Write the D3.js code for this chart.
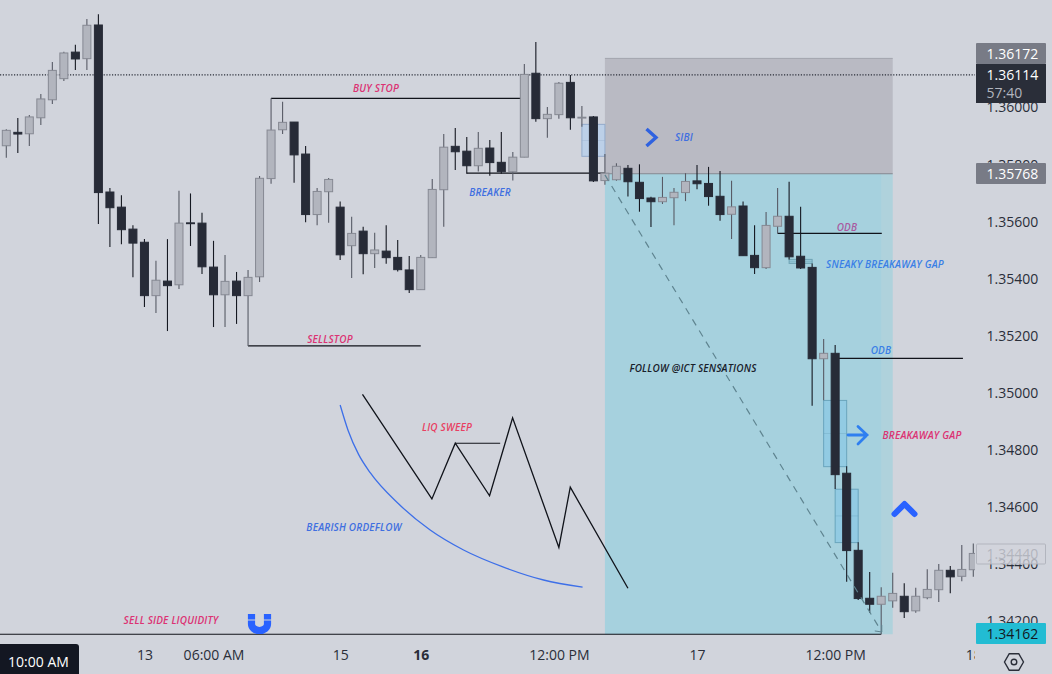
<!DOCTYPE html>
<html>
<head>
<meta charset="utf-8">
<title>GBPUSD chart</title>
<script src="https://cdn.jsdelivr.net/npm/d3@7"></script>
<style>
  html, body { margin: 0; padding: 0; background: #d1d4dc; overflow: hidden; }
  svg { display: block; }
  text { font-family: "Open Sans", "DejaVu Sans", sans-serif; }
  .note { font-size: 10px; font-style: italic; font-weight: 600; text-anchor: middle; letter-spacing: 0.2px; }
  .axis text { font-size: 14px; fill: #2a2e39; }
</style>
</head>
<body>
<svg id="chart" width="1052" height="674"></svg>
<script>
// hourly candles
const opens = [1.35866,1.35913,1.35908,1.35964,1.36027,1.36101,1.36194,1.36171,1.36289,1.35704,1.35651,1.35574,1.35528,1.35341,1.35392,1.35379,1.35596,1.35595,1.35441,1.35344,1.35392,1.35341,1.35407,1.35751,1.35922,1.35949,1.35837,1.35625,1.35705,1.35651,1.35516,1.35567,1.35488,1.35497,1.35475,1.35431,1.35362,1.35474,1.35712,1.35864,1.35847,1.35796,1.35858,1.35808,1.35775,1.35826,1.36120,1.35961,1.35975,1.36088,1.35963,1.35967,1.35744,1.35747,1.35787,1.35738,1.35683,1.35670,1.35684,1.35702,1.35743,1.35734,1.35689,1.35626,1.35655,1.35482,1.35439,1.35584,1.35619,1.35479,1.35440,1.35120,1.35139,1.34719,1.34449,1.34281,1.34260,1.34272,1.34288,1.34237,1.34283,1.34311,1.34379,1.34358,1.34381];
const highs = [1.35924,1.35963,1.35974,1.36047,1.36159,1.36195,1.36220,1.36310,1.36327,1.35718,1.35693,1.35588,1.35539,1.35463,1.35539,1.35708,1.35699,1.35631,1.35533,1.35483,1.35424,1.35431,1.35760,1.36032,1.36020,1.35949,1.35865,1.35718,1.35753,1.35671,1.35617,1.35582,1.35561,1.35588,1.35536,1.35480,1.35483,1.35750,1.35907,1.35928,1.35897,1.35914,1.35886,1.35914,1.35844,1.36152,1.36229,1.36002,1.36089,1.36114,1.36005,1.35970,1.35837,1.35805,1.35799,1.35801,1.35687,1.35757,1.35718,1.35770,1.35799,1.35792,1.35778,1.35743,1.35671,1.35588,1.35634,1.35718,1.35740,1.35652,1.35454,1.35189,1.35168,1.34743,1.34477,1.34373,1.34320,1.34370,1.34334,1.34318,1.34383,1.34401,1.34394,1.34468,1.34473];
const lows = [1.35824,1.35841,1.35865,1.35939,1.36012,1.36093,1.36131,1.36131,1.35592,1.35511,1.35521,1.35405,1.35301,1.35280,1.35217,1.35364,1.35515,1.35417,1.35231,1.35231,1.35242,1.35165,1.35389,1.35733,1.35907,1.35736,1.35598,1.35588,1.35596,1.35466,1.35403,1.35416,1.35438,1.35453,1.35426,1.35350,1.35362,1.35474,1.35582,1.35781,1.35768,1.35776,1.35761,1.35768,1.35744,1.35826,1.35950,1.35894,1.35961,1.35922,1.35933,1.35739,1.35729,1.35743,1.35688,1.35635,1.35581,1.35662,1.35588,1.35672,1.35714,1.35656,1.35603,1.35539,1.35481,1.35417,1.35434,1.35559,1.35468,1.35434,1.34955,1.34975,1.34664,1.34339,1.34275,1.34230,1.34155,1.34248,1.34212,1.34230,1.34278,1.34268,1.34299,1.34341,1.34356];
const closes = [1.35920,1.35907,1.35967,1.36030,1.36130,1.36191,1.36170,1.36288,1.35702,1.35649,1.35572,1.35525,1.35341,1.35395,1.35376,1.35595,1.35593,1.35442,1.35344,1.35391,1.35341,1.35405,1.35752,1.35921,1.35948,1.35834,1.35625,1.35706,1.35748,1.35484,1.35559,1.35488,1.35501,1.35474,1.35432,1.35362,1.35475,1.35713,1.35861,1.35845,1.35796,1.35857,1.35807,1.35775,1.35826,1.36116,1.35961,1.35976,1.36085,1.35964,1.35966,1.35743,1.35770,1.35794,1.35740,1.35681,1.35670,1.35685,1.35703,1.35741,1.35733,1.35688,1.35625,1.35652,1.35481,1.35439,1.35587,1.35619,1.35477,1.35438,1.35120,1.35139,1.34714,1.34448,1.34280,1.34260,1.34288,1.34298,1.34234,1.34288,1.34312,1.34379,1.34356,1.34382,1.34438];

// price axis and time axis
const priceTicks = [1.342,1.344,1.346,1.348,1.350,1.352,1.354,1.356,1.358,1.360];
const timeTicks = [12,18,29,36,48,60,72,84];
const timeLabels = ["13","06:00 AM","15","16","12:00 PM","17","12:00 PM","18"];

// drawings on the chart, as [bar index, price]
const liqWave = [[30.94,1.34995],[36.97,1.34629],[39,1.34824],[41.98,1.3464],[43.98,1.34913],[48,1.34459],[48.99,1.3467],[54,1.34316]];
const orderflowCurve = [[29,1.34958],[29.7,1.34868],[30.6,1.34785],[31.61,1.34721],[34.07,1.34612],[36.82,1.34520],[39.72,1.34450],[43.19,1.34390],[46.67,1.34345],[50.06,1.3432]];
const levelLines = [
  [23,45,1.36032],
  [21,36,1.35165],
  [40,52,1.3577],
  [67,76.05,1.35559],
  [72,83.1,1.35121],
  [39,42.9,1.34824],
  [-0.6,76,1.34155],
];
const gapBoxes = [
  [50,52,1.35941,1.35829,"#bcd0e8","#93abcb"],
  [68,70,1.35468,1.35454,"#93c6d6","#6fa3b4"],
  [71,73,1.34974,1.34742,"#92cbe3","#6aa5bd"],
  [72,74,1.34663,1.34476,"#92cbe3","#6aa5bd"],
];
const premiumPrices = [1.36172,1.35768];
const discountPrices = [1.35768,1.34155];
const trendLine = [[52,1.35764],[76.05,1.34163]];

const lastPrice = 1.36114;

const svg = d3.select("#chart");
const x = d3.scaleLinear().domain([0,84]).range([6.3,973.3]);
const y = d3.scaleLinear().domain([1.342,1.36]).range([621.4,107.5]);
const bodyWidth = 8;

svg.append("defs").append("clipPath").attr("id","plot")
  .append("rect").attr("x",0).attr("y",0).attr("width",975).attr("height",674);

// price axis goes first, the price labels sit on top of it
const yAxis = d3.axisRight(y).tickValues(priceTicks).tickSize(0).tickFormat(d3.format(".5f"));
svg.append("g").attr("class","axis").attr("transform","translate(986.5,0)").call(yAxis)
  .call((g) => g.select(".domain").remove())
  .selectAll("text").attr("x",0);

const plot = svg.append("g").attr("clip-path","url(#plot)");

// shaded zones
plot.append("rect")
  .attr("x",x(52)).attr("width",x(77)-x(52))
  .attr("y",y(premiumPrices[0])).attr("height",y(premiumPrices[1])-y(premiumPrices[0]))
  .attr("fill","#b9bac3");
plot.append("rect")
  .attr("x",x(76.05)).attr("width",x(77)-x(76.05))
  .attr("y",y(discountPrices[0])).attr("height",y(discountPrices[1])-y(discountPrices[0]))
  .attr("fill","#afd2dc");
plot.append("rect")
  .attr("x",x(52)).attr("width",x(76.05)-x(52))
  .attr("y",y(discountPrices[0])).attr("height",y(discountPrices[1])-y(discountPrices[0]))
  .attr("fill","#a6d1de");
[premiumPrices[0],premiumPrices[1]].forEach((p,i) => {
  plot.append("line").attr("x1",x(52)).attr("x2",x(77)).attr("y1",y(p)).attr("y2",y(p))
    .attr("stroke",i ? "#85878f" : "#a3a5ae").attr("stroke-width",1);
});

// last price line
plot.append("line").attr("x1",0).attr("x2",975).attr("y1",y(lastPrice)).attr("y2",y(lastPrice))
  .attr("stroke","#2a2e39").attr("stroke-width",1.2).attr("stroke-dasharray","1.2 1.6");

// gap boxes
gapBoxes.forEach((b) => {
  plot.append("rect").attr("x",x(b[0])).attr("width",x(b[1])-x(b[0]))
    .attr("y",y(b[2])).attr("height",y(b[3])-y(b[2]))
    .attr("fill",b[4]).attr("stroke",b[5]).attr("stroke-width",1);
  plot.append("line").attr("x1",x(b[0])).attr("x2",x(b[1]))
    .attr("y1",y((b[2]+b[3])/2)).attr("y2",y((b[2]+b[3])/2))
    .attr("stroke",b[5]).attr("stroke-width",0.6).attr("opacity",0.6);
});

// level lines under the candles
plot.selectAll(".level").data(levelLines).join("line").attr("class","level")
  .attr("x1",(d) => x(d[0])).attr("x2",(d) => x(d[1]))
  .attr("y1",(d) => y(d[2])).attr("y2",(d) => y(d[2]))
  .attr("stroke","#10131a").attr("stroke-width",1.2);

// candles
const candles = plot.selectAll(".candle").data(opens).join("g").attr("class","candle");
candles.append("line")
  .attr("x1",(d,i) => x(i)).attr("x2",(d,i) => x(i))
  .attr("y1",(d,i) => y(highs[i])).attr("y2",(d,i) => y(lows[i]))
  .attr("stroke",(d,i) => closes[i] < d ? "#151821" : "#585b66")
  .attr("stroke-width",1.1);
candles.append("rect")
  .attr("x",(d,i) => x(i)-bodyWidth/2).attr("width",bodyWidth)
  .attr("y",(d,i) => y(Math.max(d,closes[i])))
  .attr("height",(d,i) => Math.abs(y(d)-y(closes[i])))
  .attr("fill",(d,i) => closes[i] < d ? "#272b37" : "#b2b5be")
  .attr("stroke",(d,i) => closes[i] < d ? "#272b37" : "#868993")
  .attr("stroke-width",1);

// trend line from the range high to the sweep low
const line = d3.line().x((d) => x(d[0])).y((d) => y(d[1]));
plot.append("path").attr("d",line(trendLine)).attr("fill","none")
  .attr("stroke","#5f8490").attr("stroke-width",1.2).attr("stroke-dasharray","7 6");
plot.append("path")
  .attr("d",`M${x(76.05)-7},${y(trendLine[1][1])-1}L${x(76.05)},${y(trendLine[1][1])}L${x(76.05)},${y(trendLine[1][1])-7}`)
  .attr("fill","none").attr("stroke","#5f8490").attr("stroke-width",1);

// hand drawn market structure
plot.append("path").attr("d",line(liqWave)).attr("fill","none")
  .attr("stroke","#10131a").attr("stroke-width",1.3);
plot.append("path").attr("d",line.curve(d3.curveMonotoneX)(orderflowCurve)).attr("fill","none")
  .attr("stroke","#3d6fe8").attr("stroke-width",1.3);
line.curve(d3.curveLinear);

// text notes
const notes = [
  ["BUY STOP",376,91.5,"#dc3273"],
  ["SELLSTOP",330,343,"#dc3273"],
  ["BREAKER",490,195.5,"#3f6fe0"],
  ["SIBI",684,140.5,"#3f6fe0"],
  ["ODB",847,230.5,"#a95aa0"],
  ["SNEAKY BREAKAWAY GAP",885,267.5,"#3a7fe6"],
  ["ODB",881,353.5,"#3a7fe6"],
  ["FOLLOW @ICT SENSATIONS",693,371.5,"#18202a"],
  ["LIQ SWEEP",447,430.5,"#e83f62"],
  ["BEARISH ORDEFLOW",354,530.5,"#3f6fe0"],
  ["BREAKAWAY GAP",922,438.5,"#dc3273"],
  ["SELL SIDE LIQUIDITY",171,623.5,"#dc3273"],
];
svg.selectAll(".note").data(notes).join("text").attr("class","note")
  .attr("x",(d) => d[1]).attr("y",(d) => d[2]).attr("fill",(d) => d[3]).text((d) => d[0]);

// icons
svg.append("path").attr("d","M646.5,129L656,137.5L646.5,146").attr("fill","none")
  .attr("stroke","#2f62e0").attr("stroke-width",3.4);
svg.append("path").attr("d","M848,435H867M858,426.5L867,435L858,444").attr("fill","none")
  .attr("stroke","#2e7ff0").attr("stroke-width",2.8).attr("stroke-linecap","round");
svg.append("path").attr("d","M894.5,514L904.5,504L914.5,514").attr("fill","none")
  .attr("stroke","#2962ff").attr("stroke-width",6).attr("stroke-linecap","round").attr("stroke-linejoin","round");
svg.append("path").attr("d","M251.5,614V624A8,6.5 0 0 0 267.5,624V614").attr("fill","none")
  .attr("stroke","#2962ff").attr("stroke-width",7.2);
svg.append("line").attr("x1",247).attr("x2",272).attr("y1",620).attr("y2",620)
  .attr("stroke","#d1d4dc").attr("stroke-width",1);

// time axis
const xAxis = d3.axisBottom(x).tickValues(timeTicks).tickSize(0)
  .tickFormat((d,i) => timeLabels[i]);
const timeGroup = plot.append("g").attr("class","axis").attr("transform","translate(0,647)").call(xAxis);
timeGroup.select(".domain").remove();
timeGroup.selectAll("text").attr("y",0).attr("dy","0.96em")
  .attr("font-weight",(d) => d === 36 ? 700 : 400);

svg.append("path").attr("d","M0,644H76a3,3 0 0 1 3,3V674H0Z").attr("fill","#131722");
svg.append("text").attr("x",38.5).attr("y",666.5).attr("text-anchor","middle")
  .attr("fill","#ffffff").attr("font-size",14).text("10:00 AM");

// price labels over the axis
const priceBoxes = [
  [1.36172,"#787b86","#ffffff",43,21],
  [1.35768,"#787b86","#ffffff",163,21],
  [1.34162,"#22bcd3","#131722",623,21],
];
priceBoxes.forEach((b) => {
  svg.append("rect").attr("x",976).attr("y",b[3]).attr("width",70).attr("height",b[4])
    .attr("fill",b[1]).attr("rx",1);
  svg.append("text").attr("x",986.5).attr("y",b[3]+15.5).attr("fill",b[2])
    .attr("font-size",14).text(b[0].toFixed(5));
});
svg.append("rect").attr("x",976).attr("y",64).attr("width",70).attr("height",39).attr("fill","#2a2e39");
svg.append("text").attr("x",986.5).attr("y",80).attr("fill","#ffffff").attr("font-size",14).text(lastPrice.toFixed(5));
svg.append("text").attr("x",986.5).attr("y",98).attr("fill","#b2b5be").attr("font-size",14).text("57:40");
svg.append("rect").attr("x",976.5).attr("y",544).attr("width",69).attr("height",20).attr("rx",1)
  .attr("fill","#d1d4dc").attr("fill-opacity",0.75).attr("stroke","#b2b5be").attr("stroke-width",1);
svg.append("text").attr("x",986.5).attr("y",559).attr("fill","#b2b5be").attr("font-size",14).text((1.3444).toFixed(5));

// settings icon
const hex = d3.range(6).map((k) => {
  const a = Math.PI/3*k;
  return [1014+9.5*Math.cos(a),662+9.5*Math.sin(a)];
});
svg.append("polygon").attr("points",hex.join(" ")).attr("fill","none")
  .attr("stroke","#2a2e39").attr("stroke-width",1.4);
svg.append("circle").attr("cx",1014).attr("cy",662).attr("r",2.8).attr("fill","none")
  .attr("stroke","#2a2e39").attr("stroke-width",1.4);
</script>
</body>
</html>
